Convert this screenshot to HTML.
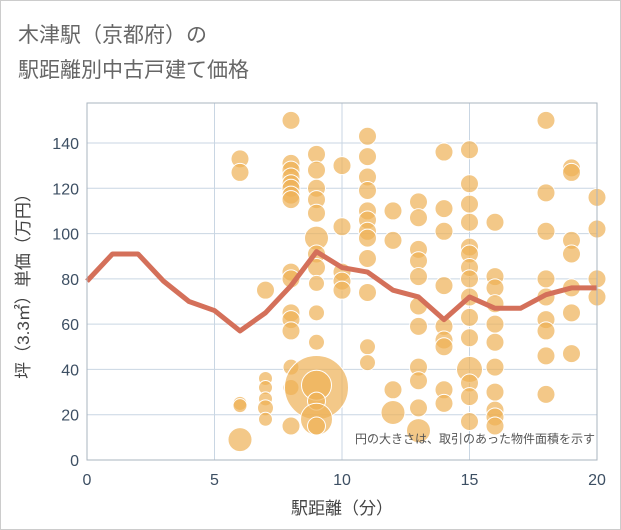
<!DOCTYPE html>
<html><head><meta charset="utf-8"><style>
body{margin:0;background:#fff;}
svg{display:block;font-family:"Liberation Sans","Noto Sans CJK JP",sans-serif;}
</style></head><body>
<svg id="chart" width="621" height="530">
<rect x="0.5" y="0.5" width="620" height="529" fill="#fff" stroke="#ccc"/>
<text x="18" y="42" font-size="21" fill="#666">木津駅（京都府）の</text>
<text x="18" y="77" font-size="21" fill="#666">駅距離別中古戸建て価格</text>
<g id="grid"></g><g id="pts"></g><g id="line"></g><g id="axes"></g>
<text x="595" y="443" font-size="12" fill="#555" text-anchor="end">円の大きさは、取引のあった物件面積を示す</text>
<text x="342" y="514" font-size="17" fill="#444" text-anchor="middle">駅距離（分）</text>
<text transform="translate(29,282) rotate(-90)" font-size="17" fill="#444" text-anchor="middle">坪（3.3㎡）単価（万円）</text>
</svg>
<script>
const xTicks=[0,5,10,15,20];
const yTicks=[0,20,40,60,80,100,120,140];
const lineX=[0,1,2,3,4,5,6,7,8,9,10,11,12,13,14,15,16,17,18,19,20];
const lineY=[79,91,91,79,70,66,57,65,77,92,85,83,75,72,62,72,67,67,73,76,76];
const ptX=[
6,6,6,6,6,
7,7,7,7,7,7,
8,8,8,8,8,8,8,8,8,8,8,8,8,8,8,8,
9,9,9,9,9,9,9,9,9,9,9,9,9,9,9,9,
10,10,10,10,10,
11,11,11,11,11,11,11,11,11,11,11,11,
12,12,12,12,
13,13,13,13,13,13,13,13,13,13,13,
14,14,14,14,14,14,14,14,14,
15,15,15,15,15,15,15,15,15,15,15,15,15,15,15,
16,16,16,16,16,16,16,16,16,16,16,
18,18,18,18,18,18,18,18,18,
19,19,19,19,19,19,19,
20,20,20,20];
const ptY=[
133,127,25,24,9,
75,36,32,27,23,18,
150,131,128,125,122,120,117,115,83,80,65,62,57,41,32,15,
135,128,120,115,109,98,91,85,78,65,52,32,33,26,18,15,
130,103,83,79,75,
143,134,125,119,110,106,101,98,89,74,50,43,
110,97,31,21,
114,107,93,88,81,68,59,41,35,23,13,
136,111,101,77,59,53,50,31,25,
137,122,113,105,94,91,85,80,72,63,54,40,34,28,17,
105,81,76,69,60,52,41,30,22,19,15,
150,118,101,80,72,62,57,46,29,
129,127,97,91,76,65,47,
116,102,80,72];
const ptR=[
9,9,7,7,12,
9,7,7,7,8,7,
9,9,9,9,9,9,9,9,9,9,9,9,9,8,8,9,
9,9,9,9,9,12,9,9,8,8,8,32,15,9,16,9,
9,9,9,9,9,
9,9,9,9,9,9,9,9,9,9,8,8,
9,9,9,12,
9,9,9,9,9,9,9,9,9,9,12,
9,9,9,9,9,9,9,9,9,
9,9,9,9,9,9,9,9,9,9,9,13,9,9,9,
9,9,9,9,9,9,9,9,9,9,9,
9,9,9,9,9,9,9,9,9,
9,9,9,9,9,9,9,
9,9,9,9];
const L=87,R=597,T=103,B=460,X0=0,X1=20,Y0=0,Y1=140*(460-103)/(460-143);
const sx=v=>L+(v-X0)/(X1-X0)*(R-L), sy=v=>B-(v-Y0)/(Y1-Y0)*(B-T);
const NS="http://www.w3.org/2000/svg";
function mk(tag,parent,attrs){const e=document.createElementNS(NS,tag);for(const k in attrs)e.setAttribute(k,attrs[k]);parent.appendChild(e);return e;}
const grid=document.getElementById('grid'),axes=document.getElementById('axes');
yTicks.forEach(t=>{
 const g=mk('line',grid,{x1:L,x2:R,y1:sy(t),y2:sy(t),stroke:'#c9d6e3','stroke-width':1});
 
 
 const tx=mk('text',axes,{x:L-8,y:sy(t)+6,'font-size':16,fill:'#3d4f63','text-anchor':'end'});tx.textContent=t;
 
 
});
xTicks.forEach(t=>{
 const g=mk('line',grid,{x1:sx(t),x2:sx(t),y1:T,y2:B,stroke:'#c9d6e3','stroke-width':1});
 
 
 const tx=mk('text',axes,{x:sx(t),y:B+25,'font-size':16,fill:'#3d4f63','text-anchor':'middle'});tx.textContent=t;
 
 
});
const fr=mk('rect',axes,{x:L,y:T,width:R-L,height:B-T,fill:'none',stroke:'#aab4bf','stroke-width':1});


const pts=document.getElementById('pts');
ptX.forEach((x,i)=>{
 const c=mk('circle',pts,{cx:sx(x),cy:sy(ptY[i]),r:ptR[i],fill:'#eeb055','fill-opacity':0.7,stroke:'#fff','stroke-width':1});
 
 
});
const p=mk('polyline',document.getElementById('line'),{points:lineX.map((x,i)=>sx(x)+','+sy(lineY[i])).join(' '),fill:'none',stroke:'#d4705a','stroke-width':5,'stroke-linejoin':'round'});


</script>
</body></html>
